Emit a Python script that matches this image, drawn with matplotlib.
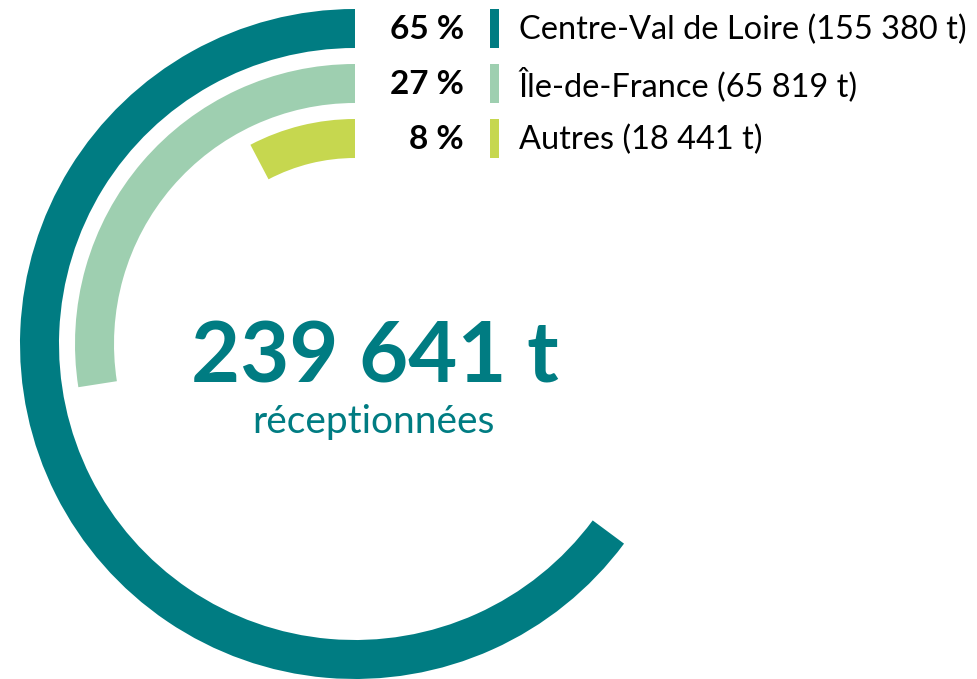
import matplotlib.pyplot as plt
from matplotlib.patches import Wedge, Rectangle

# data
regions = ["Centre-Val de Loire", "Île-de-France", "Autres"]
tonnes = [155380, 65819, 18441]
pct_labels = ["65 %", "27 %", "8 %"]
total_label = "239 641 t"
sub_label = "réceptionnées"
colors = ["#007C82", "#9ECFB0", "#C6D74F"]

W, H = 977, 679
total = sum(tonnes)

fig = plt.figure(figsize=(9.77, 6.79), dpi=100)
ax = fig.add_axes([0, 0, 1, 1])
ax.set_xlim(0, W)
ax.set_ylim(0, H)
ax.axis('off')

cx, cy = 355, H - 344
r_out = 335
ring_w = 39
pitch = 55

def fmt(n):
    return f"{n:,}".replace(",", " ")

for i, (name, t, p, c) in enumerate(zip(regions, tonnes, pct_labels, colors)):
    r = r_out - i * pitch
    span = 360 * t / total
    ax.add_patch(Wedge((cx, cy), r, 90, 90 + span, width=ring_w, color=c, lw=0))
    # legend row aligned with the ring
    ytop = cy + r
    ymid = ytop - ring_w / 2
    ax.add_patch(Rectangle((490, ytop - ring_w), 9, ring_w, color=c, lw=0))
    ax.text(464, ymid - 1, p, ha='right', va='center', fontsize=24,
            fontweight='bold', family='Lato', color='black')
    ax.text(519, ymid - 1, f"{name} ({fmt(t)} t)", ha='left', va='center',
            fontsize=23.4, family='Lato', color='black')

ax.text(375, H - 358, total_label, ha='center', va='center', fontsize=61,
        fontweight='bold', family='Lato', color=colors[0])
ax.text(373, H - 422, sub_label, ha='center', va='center', fontsize=28,
        family='Lato', color=colors[0])

fig.savefig("out.png", dpi=100)
